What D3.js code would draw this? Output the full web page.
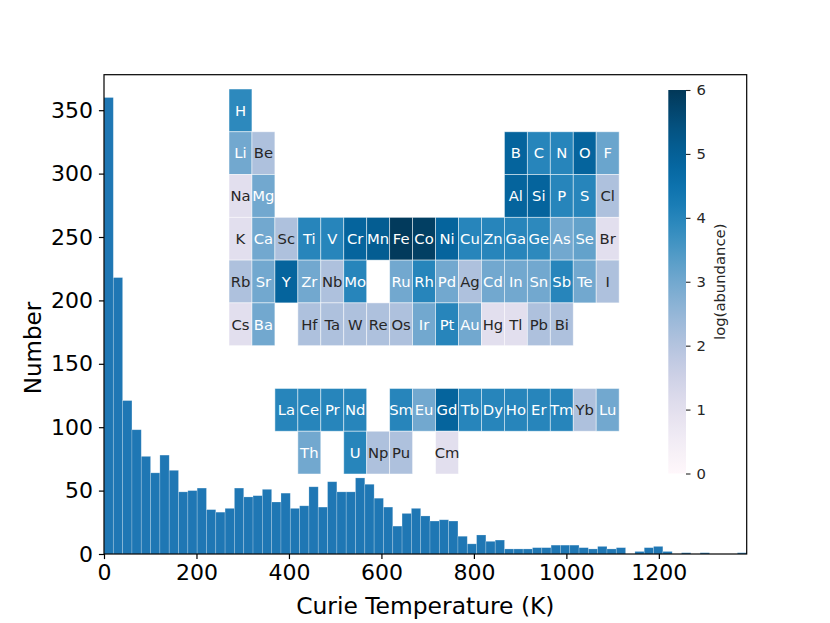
<!DOCTYPE html>
<html>
<head>
<meta charset="utf-8">
<script src="https://cdn.jsdelivr.net/npm/d3@7"></script>
<style>
  body { margin: 0; background: #fff; }
  svg { font-family: "DejaVu Sans", sans-serif; }
</style>
</head>
<body>
<svg id="chart" width="830" height="623"></svg>
<script>
// Histogram of Curie temperatures (counts per bin, 69 bins from 0 K)
const xMax = 1390;
const binCounts = [360, 218, 121, 98, 77, 64, 78, 66, 49, 50, 52, 35, 33, 36, 52, 45, 46, 51,
  41, 48, 36, 38, 53, 37, 57, 49, 49, 60, 55, 44, 37, 22, 32, 36, 30, 26, 27, 26, 14, 8, 15,
  10, 11, 4, 4, 4, 5, 5, 7, 7, 7, 5, 4, 6, 4, 5, 0, 2, 5, 6, 2, 0, 1, 0, 1, 0, 0, 0, 1];
const xTicks = [0, 200, 400, 600, 800, 1000, 1200];
const yTicks = [0, 50, 100, 150, 200, 250, 300, 350];

// Periodic table inset: symbol, table row, table column, log(abundance)
const symbols = ["H",
  "Li", "Be", "B", "C", "N", "O", "F",
  "Na", "Mg", "Al", "Si", "P", "S", "Cl",
  "K", "Ca", "Sc", "Ti", "V", "Cr", "Mn", "Fe", "Co", "Ni", "Cu", "Zn", "Ga", "Ge", "As", "Se", "Br",
  "Rb", "Sr", "Y", "Zr", "Nb", "Mo", "Ru", "Rh", "Pd", "Ag", "Cd", "In", "Sn", "Sb", "Te", "I",
  "Cs", "Ba", "Hf", "Ta", "W", "Re", "Os", "Ir", "Pt", "Au", "Hg", "Tl", "Pb", "Bi",
  "La", "Ce", "Pr", "Nd", "Sm", "Eu", "Gd", "Tb", "Dy", "Ho", "Er", "Tm", "Yb", "Lu",
  "Th", "U", "Np", "Pu", "Cm"];
const tableRow = [0,
  1, 1, 1, 1, 1, 1, 1,
  2, 2, 2, 2, 2, 2, 2,
  3, 3, 3, 3, 3, 3, 3, 3, 3, 3, 3, 3, 3, 3, 3, 3, 3,
  4, 4, 4, 4, 4, 4, 4, 4, 4, 4, 4, 4, 4, 4, 4, 4,
  5, 5, 5, 5, 5, 5, 5, 5, 5, 5, 5, 5, 5, 5,
  7, 7, 7, 7, 7, 7, 7, 7, 7, 7, 7, 7, 7, 7,
  8, 8, 8, 8, 8];
const tableCol = [0,
  0, 1, 12, 13, 14, 15, 16,
  0, 1, 12, 13, 14, 15, 16,
  0, 1, 2, 3, 4, 5, 6, 7, 8, 9, 10, 11, 12, 13, 14, 15, 16,
  0, 1, 2, 3, 4, 5, 7, 8, 9, 10, 11, 12, 13, 14, 15, 16,
  0, 1, 3, 4, 5, 6, 7, 8, 9, 10, 11, 12, 13, 14,
  2, 3, 4, 5, 7, 8, 9, 10, 11, 12, 13, 14, 15, 16,
  3, 5, 6, 7, 9];
const logAbundance = [3.9,
  3.0, 2.1, 4.9, 4.0, 4.0, 4.9, 3.1,
  1.0, 3.0, 4.9, 4.9, 4.0, 4.0, 2.1,
  1.0, 3.0, 2.1, 4.0, 4.0, 4.9, 5.1, 5.95, 5.85, 4.9, 4.0, 4.0, 4.0, 3.9, 3.0, 3.2, 1.0,
  2.1, 3.0, 4.9, 3.0, 2.1, 4.0, 3.0, 4.0, 3.0, 2.1, 3.0, 3.0, 3.0, 4.0, 3.0, 2.1,
  1.0, 3.0, 2.1, 2.1, 2.1, 2.1, 2.1, 3.0, 4.0, 3.0, 1.0, 1.0, 2.1, 2.1,
  4.0, 4.0, 4.0, 4.0, 4.0, 3.0, 4.9, 4.0, 4.0, 4.0, 4.0, 4.0, 2.1, 3.0,
  3.0, 4.0, 2.1, 2.1, 1.0];
const cbTicks = [0, 1, 2, 3, 4, 5, 6];

const svg = d3.select('#chart');
const ax = { left: 104, right: 746.7, top: 74.7, bottom: 554 };

const x = d3.scaleLinear().domain([0, xMax]).range([ax.left, ax.right]);
const y = d3.scaleLinear().domain([0, 378]).range([ax.bottom, ax.top]);
const binWidth = xMax / binCounts.length;

// bars
svg.append('g')
  .selectAll('rect')
  .data(binCounts)
  .join('rect')
  .attr('x', (d, i) => x(i * binWidth))
  .attr('width', (d, i) => x((i + 1) * binWidth) - x(i * binWidth))
  .attr('y', d => y(d))
  .attr('height', d => y(0) - y(d))
  .attr('fill', '#1f77b4')
  .attr('stroke', 'rgba(255,255,255,0.3)')
  .attr('stroke-width', 0.7);

// axes
const xAxis = svg.append('g')
  .attr('transform', `translate(0,${ax.bottom})`)
  .call(d3.axisBottom(x).tickValues(xTicks).tickSize(5.1).tickPadding(5).tickFormat(d3.format('d')));
const yAxis = svg.append('g')
  .attr('transform', `translate(${ax.left},0)`)
  .call(d3.axisLeft(y).tickValues(yTicks).tickSize(5.1).tickPadding(6));
[xAxis, yAxis].forEach(g => {
  g.select('.domain').remove();
  g.selectAll('line').attr('stroke', '#000').attr('stroke-width', 1.2);
  g.selectAll('text').attr('font-size', 22).attr('font-family', 'DejaVu Sans').attr('fill', '#000');
});

// frame
svg.append('rect')
  .attr('x', ax.left).attr('y', ax.top)
  .attr('width', ax.right - ax.left).attr('height', ax.bottom - ax.top)
  .attr('fill', 'none').attr('stroke', '#000').attr('stroke-width', 1.2);

svg.append('text')
  .attr('x', (ax.left + ax.right) / 2).attr('y', 614)
  .attr('text-anchor', 'middle').attr('font-size', 23.4)
  .text('Curie Temperature (K)');
svg.append('text')
  .attr('transform', 'translate(41,348) rotate(-90)')
  .attr('text-anchor', 'middle').attr('font-size', 23)
  .text('Number');

// periodic table inset
const color = d3.scaleSequential(d3.interpolatePuBu).domain([0, 6]);
const col = d3.scaleBand().domain(d3.range(18)).range([229, 229 + 18 * 22.95]);
const row = d3.scaleBand().domain(d3.range(9)).range([89, 474]);

const cells = svg.append('g')
  .selectAll('g')
  .data(symbols.map((s, i) => ({ s, r: tableRow[i], c: tableCol[i], v: logAbundance[i] })))
  .join('g')
  .attr('transform', d => `translate(${col(d.c)},${row(d.r)})`);
cells.append('rect')
  .attr('width', col.bandwidth()).attr('height', row.bandwidth())
  .attr('fill', d => color(d.v))
  .attr('stroke', 'rgba(255,255,255,0.6)').attr('stroke-width', 0.8);
cells.append('text')
  .attr('x', col.bandwidth() / 2).attr('y', row.bandwidth() / 2)
  .attr('dy', '0.36em')
  .attr('text-anchor', 'middle').attr('font-size', 14.8)
  .attr('fill', d => d.v >= 2.5 ? '#fff' : '#262626')
  .text(d => d.s);

// colorbar
const cb = { x: 668.3, w: 17.7, top: 90, bottom: 473.5 };
const cbScale = d3.scaleLinear().domain([0, 6]).range([cb.bottom, cb.top]);
const grad = svg.append('defs').append('linearGradient')
  .attr('id', 'cbgrad').attr('x1', 0).attr('y1', 1).attr('x2', 0).attr('y2', 0);
d3.range(0, 1.0001, 0.05).forEach(t => {
  grad.append('stop').attr('offset', t).attr('stop-color', d3.interpolatePuBu(t));
});
svg.append('rect')
  .attr('x', cb.x).attr('y', cb.top).attr('width', cb.w).attr('height', cb.bottom - cb.top)
  .attr('fill', 'url(#cbgrad)');
const cbAxis = svg.append('g')
  .attr('transform', `translate(${cb.x + cb.w},0)`)
  .call(d3.axisRight(cbScale).tickValues(cbTicks).tickSize(4.5).tickPadding(6).tickFormat(d3.format('d')));
cbAxis.select('.domain').remove();
cbAxis.selectAll('line').attr('stroke', '#262626').attr('stroke-width', 1.1);
cbAxis.selectAll('text').attr('font-size', 14.8).attr('font-family', 'DejaVu Sans').attr('fill', '#262626');
svg.append('text')
  .attr('transform', `translate(725,${(cb.top + cb.bottom) / 2}) rotate(-90)`)
  .attr('text-anchor', 'middle').attr('font-size', 14.8).attr('fill', '#262626')
  .text('log(abundance)');
</script>
</body>
</html>
